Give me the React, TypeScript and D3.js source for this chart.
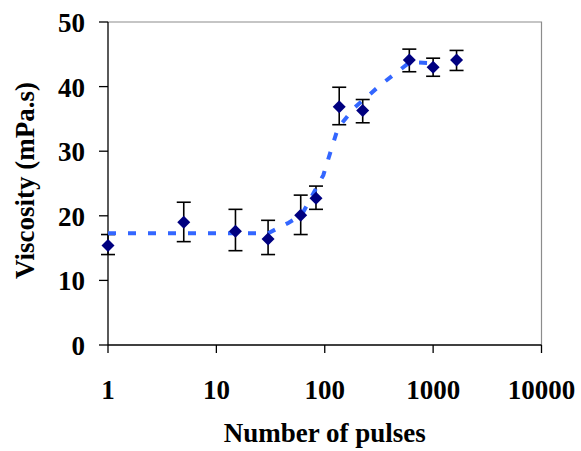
import * as React from "react";
import * as d3 from "d3";

// measured viscosity vs number of pulses
const pulses = [1, 5, 15, 30, 60, 83, 136, 224, 603, 1000, 1645];
const viscosity = [15.4, 19.0, 17.6, 16.4, 20.1, 22.7, 36.9, 36.3, 44.1, 43.0, 44.1];
const errLow = [14.0, 16.0, 14.6, 14.0, 17.1, 21.0, 34.1, 34.4, 42.3, 41.6, 42.5];
const errHigh = [17.1, 22.1, 21.0, 19.3, 23.2, 24.6, 39.9, 38.0, 45.8, 44.4, 45.6];

// fitted trend (dashed)
const fitX = [1, 30, 46, 61, 97, 129, 143, 190, 324, 611, 1050];
const fitY = [17.3, 17.3, 18.9, 20.1, 26.3, 33.0, 34.3, 36.8, 40.2, 43.8, 43.6];

const xTicks = [1, 10, 100, 1000, 10000];
const yTicks = [0, 10, 20, 30, 40, 50];

const width = 581;
const height = 451;
const marginLeft = 108;
const marginRight = 39.5;
const marginTop = 22;
const marginBottom = 106;

const font = "'Liberation Serif', 'Times New Roman', serif";

const App: React.FC = () => {
  const x = d3
    .scaleLog()
    .domain([1, 10000])
    .range([marginLeft, width - marginRight]);

  const y = d3
    .scaleLinear()
    .domain([0, 50])
    .range([height - marginBottom, marginTop]);

  const fitLine = d3
    .line<number>()
    .x((d) => x(d))
    .y((d, i) => y(fitY[i]));

  const diamond = (cx: number, cy: number, r: number) =>
    `M${cx},${cy - r}L${cx + r},${cy}L${cx},${cy + r}L${cx - r},${cy}Z`;

  const x0 = x.range()[0];
  const x1 = x.range()[1];
  const y0 = y.range()[0];
  const y1 = y.range()[1];

  return (
    <svg
      width={width}
      height={height}
      style={{ position: "absolute", left: 0, top: 0, background: "#fff" }}
    >
      {/* plot frame: grey top/right, black axes */}
      <path d={`M${x0},${y1}H${x1}V${y0}`} fill="none" stroke="#8c8c8c" strokeWidth={1.2} />
      <g stroke="#000" strokeWidth={1.3}>
        <line x1={x0} x2={x0} y1={y1} y2={y0} />
        <line x1={x0} x2={x1} y1={y0} y2={y0} />
        {yTicks.map((t) => (
          <line key={t} x1={x0 - 9} x2={x0} y1={y(t)} y2={y(t)} />
        ))}
        {xTicks.map((t) => (
          <line key={t} x1={x(t)} x2={x(t)} y1={y0} y2={y0 + 8} />
        ))}
      </g>

      {/* tick labels */}
      <g fontFamily={font} fontWeight="bold" fontSize={27} fill="#000">
        {yTicks.map((t) => (
          <text key={t} x={85} y={y(t) + 10} textAnchor="end">
            {t}
          </text>
        ))}
        {xTicks.map((t) => (
          <text key={t} x={x(t)} y={399} textAnchor="middle">
            {t}
          </text>
        ))}
        <text x={(x0 + x1) / 2} y={442} textAnchor="middle">
          Number of pulses
        </text>
        <text
          transform={`translate(34,${(y0 + y1) / 2 - 3}) rotate(-90)`}
          textAnchor="middle"
        >
          Viscosity (mPa.s)
        </text>
      </g>

      {/* error bars */}
      <g stroke="#000" strokeWidth={1.6}>
        {pulses.map((p, i) => (
          <g key={i}>
            <line x1={x(p)} x2={x(p)} y1={y(errLow[i])} y2={y(errHigh[i])} />
            <line x1={x(p) - 7} x2={x(p) + 7} y1={y(errLow[i])} y2={y(errLow[i])} />
            <line x1={x(p) - 7} x2={x(p) + 7} y1={y(errHigh[i])} y2={y(errHigh[i])} />
          </g>
        ))}
      </g>

      {/* fit line */}
      <path
        d={fitLine(fitX) || undefined}
        fill="none"
        stroke="#3366ff"
        strokeWidth={4}
        strokeDasharray="8,12"
      />

      {/* markers */}
      <g fill="#000080">
        {pulses.map((p, i) => (
          <path key={i} d={diamond(x(p), y(viscosity[i]), 6.5)} />
        ))}
      </g>
    </svg>
  );
};

export default App;
